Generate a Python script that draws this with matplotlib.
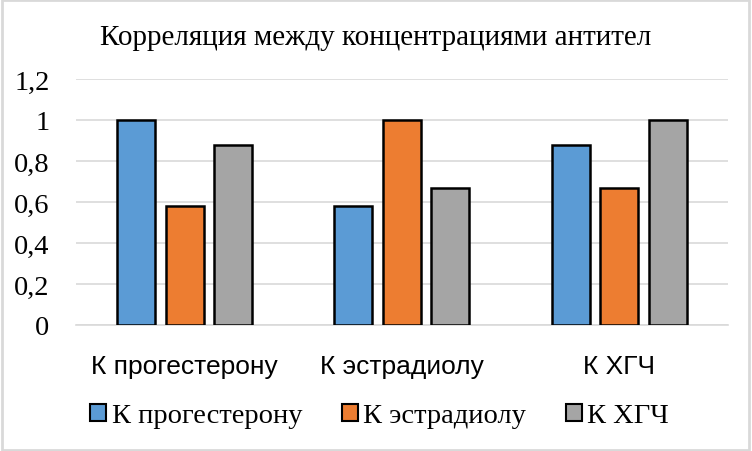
import matplotlib.pyplot as plt
import matplotlib
import numpy as np

matplotlib.rcParams['font.family'] = ['Liberation Serif', 'DejaVu Serif']

categories = ['К прогестерону', 'К эстрадиолу', 'К ХГЧ']
series_names = ['К прогестерону', 'К эстрадиолу', 'К ХГЧ']
progesterone = [1.0, 0.58, 0.88]
estradiol = [0.58, 1.0, 0.67]
hcg = [0.88, 0.67, 1.0]
colors = ['#5B9BD5', '#ED7D31', '#A5A5A5']

fig = plt.figure(figsize=(7.52, 4.52), dpi=100)
ax = fig.add_axes([0.101, 0.279, 0.867, 0.544])

x = np.arange(len(categories))
width = 0.175
step = 0.223
for i, (vals, name) in enumerate(zip([progesterone, estradiol, hcg], series_names)):
    ax.bar(x + (i - 1) * step, vals, width, color=colors[i], edgecolor='black',
           linewidth=1.8, label=name, zorder=3)

ax.set_xlim(-0.5, 2.5)
ax.set_ylim(0, 1.2)
ax.set_yticks(np.arange(0, 1.21, 0.2))
ax.set_yticklabels(['0', '0,2', '0,4', '0,6', '0,8', '1', '1,2'], fontsize=20.5)
ax.set_xticks(x)
ax.set_xticklabels(categories, fontsize=19, family=['Liberation Sans', 'DejaVu Sans'])
ax.tick_params(axis='y', length=0, pad=19)
ax.tick_params(axis='x', length=0, pad=21)
ax.grid(axis='y', color='#D9D9D9', linewidth=1.2, zorder=0)
for s in ['top', 'right', 'left']:
    ax.spines[s].set_visible(False)
ax.spines['bottom'].set_color('#D9D9D9')
ax.spines['bottom'].set_linewidth(1.2)

fig.text(0.5, 0.915, 'Корреляция между концентрациями антител', ha='center', va='center', fontsize=21)

leg = fig.legend(loc='center', bbox_to_anchor=(0.505, 0.078), ncol=3, frameon=False,
                 fontsize=20.5, handlelength=0.55, handleheight=0.55, handletextpad=0.2,
                 columnspacing=1.4)
for h in leg.legend_handles:
    h.set_linewidth(1.5)

fig.patches.append(plt.Rectangle((0.002, 0.003), 0.994, 0.994, transform=fig.transFigure,
                                 fill=False, edgecolor='#D9D9D9', linewidth=2))

plt.savefig('out.png', dpi=100)
